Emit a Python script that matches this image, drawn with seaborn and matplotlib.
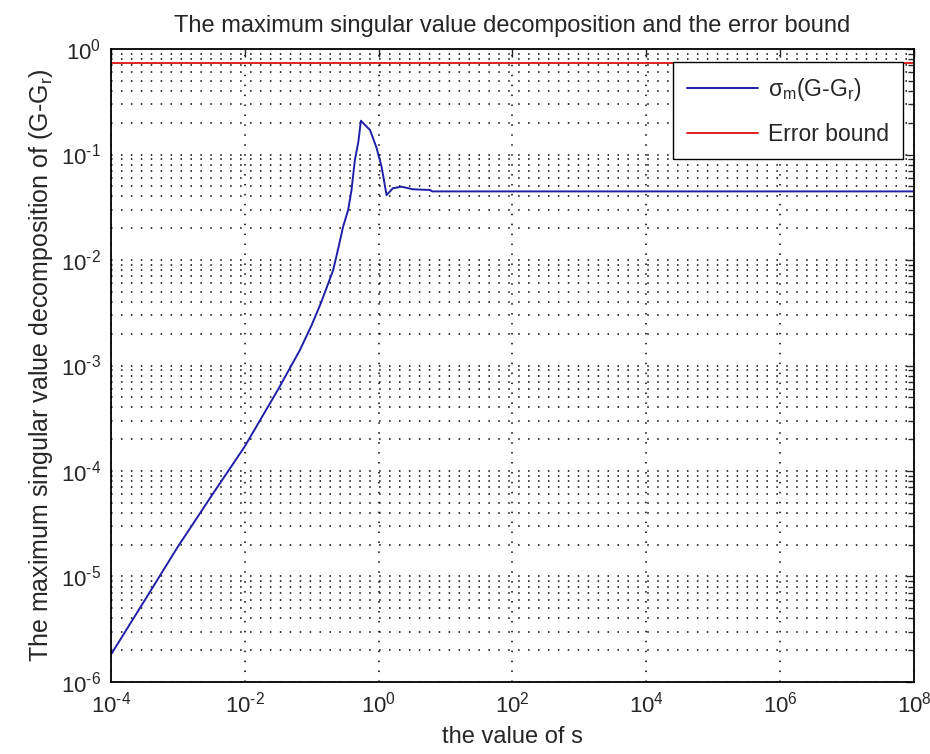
import numpy as np
import pandas as pd
import matplotlib
matplotlib.use("Agg")
import matplotlib.pyplot as plt
import matplotlib.ticker as mticker
import seaborn as sns

# valores
s_vals = [1.0e-4, 3.2e-4, 1.0e-3, 3.2e-3, 1.0e-2, 3.2e-2, 6.7e-2, 0.10, 0.14,
          0.21, 0.247, 0.296, 0.352, 0.395, 0.444, 0.50, 0.546, 0.63, 0.745,
          0.93, 1.11, 1.32, 1.64, 2.21, 3.27, 5.9, 6.3, 1.0e8]
sigma_vals = [1.8e-6, 5.9e-6, 1.9e-5, 5.8e-5, 1.7e-4, 6.0e-4, 1.4e-3, 2.4e-3, 4.0e-3,
              8.0e-3, 1.24e-2, 2.07e-2, 2.98e-2, 4.6e-2, 8.9e-2, 0.132, 0.209, 0.19, 0.171,
              0.117, 0.0767, 0.0412, 0.0479, 0.0495, 0.0468, 0.0461, 0.0447, 0.0447]
bound_s = [1.0e-4, 1.0e8]
bound_vals = [0.73, 0.73]

xticks = [1e-4, 1e-2, 1e0, 1e2, 1e4, 1e6, 1e8]
yticks = [1e-6, 1e-5, 1e-4, 1e-3, 1e-2, 1e-1, 1e0]

sns.set_style("white")
plt.rcParams["font.family"] = ["Liberation Sans", "DejaVu Sans"]
plt.rcParams["mathtext.fontset"] = "custom"
plt.rcParams["mathtext.rm"] = "Liberation Sans"
plt.rcParams["mathtext.it"] = "Liberation Sans"
plt.rcParams["mathtext.default"] = "regular"
plt.rcParams["axes.unicode_minus"] = False

df = pd.DataFrame({"s": s_vals, "sigma": sigma_vals})
df_b = pd.DataFrame({"s": bound_s, "bound": bound_vals})

fig, ax = plt.subplots(figsize=(9.3, 7.54), dpi=100)
fig.subplots_adjust(left=0.119, right=0.983, top=0.935, bottom=0.0955)

sns.lineplot(data=df, x="s", y="sigma", ax=ax, color="#1f1fa8", linewidth=1.4,
             estimator=None, sort=False, label=r"$\sigma_m$(G-G$_r$)")
sns.lineplot(data=df_b, x="s", y="bound", ax=ax, color="#e02020", linewidth=1.4,
             estimator=None, sort=False, label="Error bound")

ax.set_xscale("log")
ax.set_yscale("log")
ax.set_xlim(1e-4, 1e8)
ax.set_ylim(1e-6, 1e0)


# rótulos estilo MATLAB: 10^-4 com hífen curto
def fmt_pot(v, pos):
    e = int(round(np.log10(v)))
    return r"$10^{\text{%d}}$" % e


ax.xaxis.set_major_locator(mticker.FixedLocator(xticks))
ax.xaxis.set_minor_locator(mticker.NullLocator())
ax.yaxis.set_major_locator(mticker.FixedLocator(yticks))
ax.yaxis.set_minor_locator(mticker.LogLocator(base=10, subs=np.arange(2, 10), numticks=20))
ax.yaxis.set_minor_formatter(mticker.NullFormatter())
ax.xaxis.set_major_formatter(mticker.FuncFormatter(fmt_pot))
ax.yaxis.set_major_formatter(mticker.FuncFormatter(fmt_pot))

dots = (0, (1, 5.5))
ax.grid(True, which="major", axis="x", linestyle=dots, color="black", linewidth=1.1)
ax.grid(True, which="both", axis="y", linestyle=dots, color="black", linewidth=1.1)

ax.tick_params(which="both", direction="in", top=True, right=True, labelsize=16, pad=7)
ax.tick_params(which="major", length=6, width=1)
ax.tick_params(which="minor", length=4, width=1)
for sp in ax.spines.values():
    sp.set_color("black")
    sp.set_linewidth(1.3)

ax.set_title("The maximum singular value decomposition and the error bound", fontsize=17, pad=12)
ax.set_xlabel("the value of s", fontsize=17, labelpad=6)
ax.set_ylabel("The maximum singular value decomposition of (G-G$_r$)", fontsize=18, labelpad=4)

leg = ax.legend(loc="upper right", bbox_to_anchor=(0.986, 0.979), borderaxespad=0,
                fontsize=16.5, frameon=True, fancybox=False, handlelength=3.1,
                borderpad=0.6, labelspacing=0.85, handletextpad=0.45)
leg.get_frame().set_edgecolor("black")
leg.get_frame().set_linewidth(1.0)
leg.get_frame().set_alpha(1)

plt.savefig("out.png", dpi=100)
